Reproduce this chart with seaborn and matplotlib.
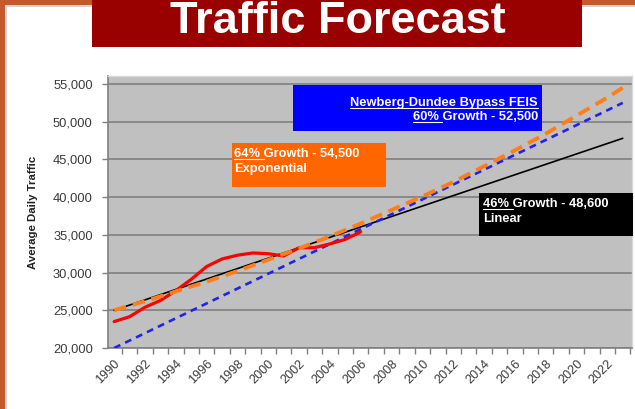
import matplotlib
matplotlib.use("Agg")
import matplotlib.pyplot as plt
from matplotlib.patches import Rectangle
from matplotlib.lines import Line2D
from matplotlib.ticker import FixedLocator, StrMethodFormatter
import seaborn as sns
import pandas as pd

# ---- data -------------------------------------------------------------
# Counted average daily traffic
actual_years = list(range(1990, 2007))
actual_adt = [23500, 24150, 25400, 26300, 27600, 29100, 30800, 31800, 32300,
              32600, 32500, 32200, 33300, 33300, 33800, 34400, 35400]

# Linear trend (46% growth)
linear_years = [1990, 2023]
linear_adt = [25000, 47800]

# Newberg-Dundee Bypass FEIS forecast (60% growth)
feis_years = [1990, 2023]
feis_adt = [20000, 52500]

# Exponential trend (64% growth)
exp_years = [1990, 1992, 1994, 1996, 1998, 2000, 2002, 2004, 2006, 2008,
             2010, 2012, 2014, 2016, 2018, 2020, 2022, 2023]
exp_adt = [25000, 26200, 27500, 28800, 30200, 31700, 33200, 34800, 36500,
           38300, 40100, 42000, 44100, 46200, 48400, 50800, 53200, 54500]

year_labels = list(range(1990, 2023, 2))
adt_ticks = [20000, 25000, 30000, 35000, 40000, 45000, 50000, 55000]

title_text = "Traffic Forecast"
y_title = "Average Daily Traffic"
feis_lines = ["Newberg-Dundee Bypass FEIS", "60% Growth - 52,500"]
exp_lines = ["64% Growth - 54,500", "Exponential"]
lin_lines = ["46% Growth - 48,600", "Linear"]

# ---- styling ----------------------------------------------------------
sns.set_style("white")
plt.rcParams["font.family"] = ["Liberation Sans", "DejaVu Sans"]

W, H = 635, 409
fig = plt.figure(figsize=(W / 100, H / 100), dpi=100)
fig.patch.set_facecolor("white")


def fx(x):
    return x / W


def fy(y):
    return 1 - y / H


# slide frame
fig.add_artist(Rectangle((fx(5), 0), fx(2), 1 - 5 / H, transform=fig.transFigure,
                         color="#d4d4d4", lw=0, zorder=0))
fig.add_artist(Rectangle((fx(5), fy(7)), 1, 2 / H, transform=fig.transFigure,
                         color="#d4d4d4", lw=0, zorder=0))
fig.add_artist(Rectangle((0, 0), fx(5), 1, transform=fig.transFigure,
                         color="#C25A30", lw=0, zorder=1))
fig.add_artist(Rectangle((0, fy(5)), 1, 5 / H, transform=fig.transFigure,
                         color="#C25A30", lw=0, zorder=1))

# title banner
fig.add_artist(Rectangle((fx(92), fy(47)), fx(582 - 92), 47 / H,
                         transform=fig.transFigure, color="#990000", lw=0, zorder=2))
fig.text(fx(338), fy(33), title_text, color="white", fontsize=32.5,
         fontweight="bold", ha="center", va="baseline", zorder=3)

# plot area
ax = fig.add_axes([fx(108), fy(348), fx(632 - 108), (348 - 76) / H])
ax.set_facecolor("#C0C0C0")

df_feis = pd.DataFrame({"year": feis_years, "adt": feis_adt})
df_lin = pd.DataFrame({"year": linear_years, "adt": linear_adt})
df_act = pd.DataFrame({"year": actual_years, "adt": actual_adt})
df_exp = pd.DataFrame({"year": exp_years, "adt": exp_adt})

sns.lineplot(data=df_lin, x="year", y="adt", ax=ax, color="black", lw=1.2,
             zorder=3)
sns.lineplot(data=df_feis, x="year", y="adt", ax=ax, color="#2222EE", lw=1.9,
             ls=(0, (2.6, 2.0)), zorder=4)
sns.lineplot(data=df_act, x="year", y="adt", ax=ax, color="#FF0000", lw=2.3,
             zorder=5)
sns.lineplot(data=df_exp, x="year", y="adt", ax=ax, color="#FF7E1A", lw=2.8,
             ls=(0, (3.2, 1.8)), zorder=6)

ax.set_xlim(1989.6, 2023.6)
ax.set_ylim(20000, 56060)

ax.yaxis.set_major_locator(FixedLocator(adt_ticks))
ax.yaxis.set_major_formatter(StrMethodFormatter("{x:,.0f}"))
ax.grid(axis="y", color="#808080", lw=1.2, zorder=1)
ax.set_axisbelow(True)

ax.xaxis.set_major_locator(FixedLocator(year_labels))
ax.xaxis.set_minor_locator(FixedLocator([y + 0.5 for y in range(1989, 2024)]))
ax.set_xticklabels([str(y) for y in year_labels], rotation=45, ha="right",
                   rotation_mode="anchor")
ax.tick_params(axis="x", which="major", length=0, pad=7, labelsize=9.1,
               labelcolor="#3a3a3a")
ax.tick_params(axis="x", which="minor", length=4, width=1, color="#808080",
               direction="out", bottom=True)
ax.tick_params(axis="y", which="major", length=4, width=1, color="#808080",
               direction="out", left=True, pad=7, labelsize=9.3,
               labelcolor="#3a3a3a")

for side in ("left", "bottom"):
    ax.spines[side].set_color("#808080")
    ax.spines[side].set_linewidth(1.2)
for side in ("top", "right"):
    ax.spines[side].set_color("#d8d8d8")
    ax.spines[side].set_linewidth(1.0)

ax.set_xlabel("")
ax.set_ylabel(y_title, fontsize=8.2, fontweight="bold", color="#222222")
ax.yaxis.set_label_coords((38 - 108) / (632 - 108), 0.5)

# annotation boxes
boxes = [
    ((293, 85, 542, 131), "#0000FF"),
    ((232, 143, 386, 187), "#FF6600"),
    ((479, 193, 633, 236), "black"),
]
for (x0, y0, x1, y1), c in boxes:
    fig.add_artist(Rectangle((fx(x0), fy(y1)), fx(x1 - x0), (y1 - y0) / H,
                             transform=fig.transFigure, color=c, lw=0, zorder=10))

label_kw = dict(color="white", fontsize=9.3, fontweight="bold", zorder=11)
t1 = fig.text(fx(538), fy(106), feis_lines[0], ha="right", va="baseline", **label_kw)
t2 = fig.text(fx(538), fy(120), feis_lines[1], ha="right", va="baseline", **label_kw)
t3 = fig.text(fx(234), fy(157), exp_lines[0], ha="left", va="baseline", **label_kw)
fig.text(fx(234), fy(172), exp_lines[1], ha="left", va="baseline", **label_kw)
t5 = fig.text(fx(483), fy(207), lin_lines[0], ha="left", va="baseline", **label_kw)
fig.text(fx(483), fy(222), lin_lines[1], ha="left", va="baseline", **label_kw)

renderer = fig.canvas.get_renderer()


def underline(txt, base_y, prefix=None):
    bb = txt.get_window_extent(renderer)
    x0 = bb.x0
    if prefix is None:
        x1 = bb.x1
    else:
        probe = fig.text(0, 0, prefix, fontsize=9.3, fontweight="bold")
        x1 = x0 + probe.get_window_extent(renderer).width
        probe.remove()
    yy = fy(base_y + 1.5)
    fig.add_artist(Line2D([x0 / W, x1 / W], [yy, yy], transform=fig.transFigure,
                          color="white", lw=0.8, zorder=12))


underline(t1, 106)
underline(t2, 120, "60% ")
underline(t3, 157, "64% ")
underline(t5, 207, "46% ")

fig.savefig("out.png", dpi=100)
